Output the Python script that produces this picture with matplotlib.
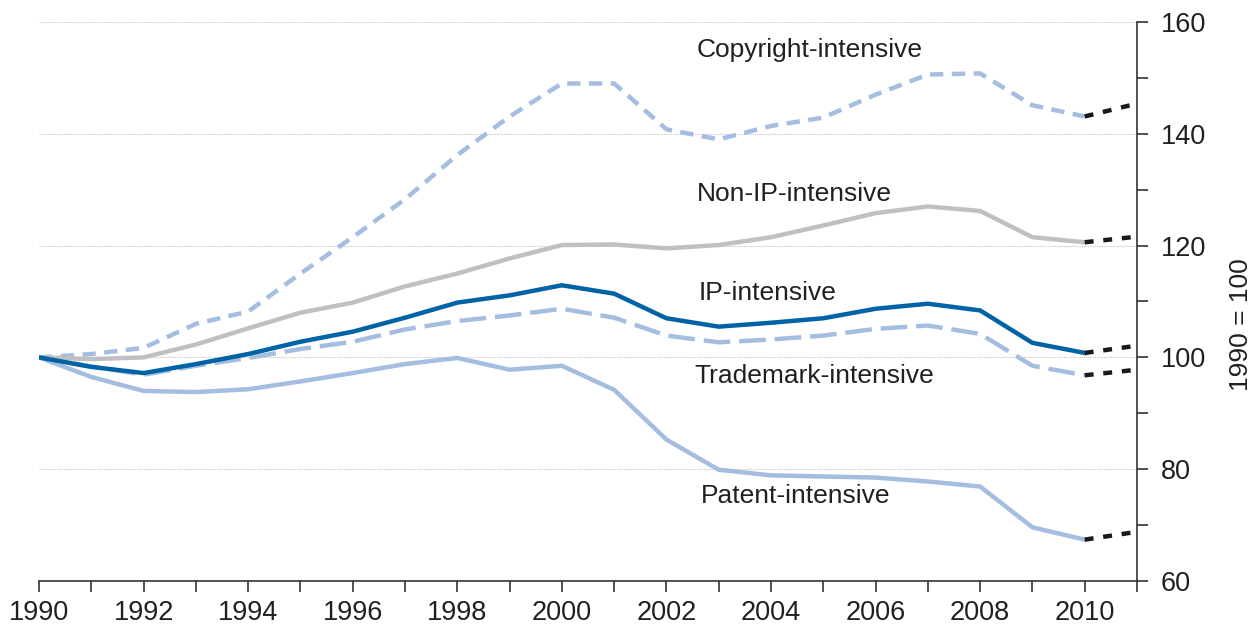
import matplotlib.pyplot as plt
from matplotlib.ticker import MultipleLocator

plt.rcParams['font.family'] = ['Liberation Sans', 'DejaVu Sans']

years = list(range(1990, 2011))
copyright_vals = [100, 100.6, 101.7, 106.0, 108.2, 115.0, 121.5, 128.3, 136.2, 143.1,
                  149.0, 149.0, 140.8, 139.0, 141.4, 142.9, 147.0, 150.6, 150.8, 145.1, 143.1]
non_ip_vals = [100, 99.7, 100.0, 102.3, 105.2, 108.0, 109.8, 112.7, 115.0, 117.7,
               120.1, 120.2, 119.5, 120.1, 121.5, 123.6, 125.8, 127.0, 126.2, 121.5, 120.6]
ip_vals = [100, 98.3, 97.2, 98.8, 100.6, 102.8, 104.6, 107.1, 109.8, 111.1,
           112.9, 111.4, 107.0, 105.5, 106.2, 107.0, 108.7, 109.6, 108.4, 102.6, 100.8]
trademark_vals = [100, 98.4, 96.9, 98.5, 99.9, 101.5, 102.8, 105.0, 106.5, 107.5,
                  108.7, 107.1, 103.9, 102.7, 103.2, 103.9, 105.1, 105.7, 104.2, 98.5, 96.8]
patent_vals = [100, 96.5, 94.0, 93.8, 94.3, 95.7, 97.2, 98.8, 99.9, 97.8,
               98.5, 94.2, 85.3, 79.9, 78.9, 78.7, 78.5, 77.8, 76.9, 69.6, 67.4]

# 2011 projected values (black dashed)
proj_years = [2010, 2011]
proj_2011 = {"copyright": 145.4, "non_ip": 121.6, "ip": 102.1,
             "trademark": 97.8, "patent": 68.8}

light_blue = "#a4bde0"
dark_blue = "#0063a6"
grey = "#c0c0c4"
text_col = "#231f20"

fig = plt.figure(figsize=(12.59, 6.32), dpi=100)
ax = fig.add_axes([0.031, 0.0807, 0.8721, 0.8845])

lw = 3.2
ax.plot(years, copyright_vals, color=light_blue, lw=lw, dashes=(3.0, 1.9))
ax.plot(years, non_ip_vals, color=grey, lw=lw)
ax.plot(years, trademark_vals, color=light_blue, lw=lw, dashes=(6, 2))
ax.plot(years, patent_vals, color=light_blue, lw=lw)
ax.plot(years, ip_vals, color=dark_blue, lw=lw)

for key, series in [("copyright", copyright_vals), ("non_ip", non_ip_vals),
                    ("ip", ip_vals), ("trademark", trademark_vals),
                    ("patent", patent_vals)]:
    ax.plot(proj_years, [series[-1], proj_2011[key]], color="#1a1a1a",
            lw=lw, dashes=(2.0, 2.2))

# series labels
fs = 19
ax.text(2002.58, 155.0, "Copyright-intensive", fontsize=fs, va="center", color=text_col)
ax.text(2002.58, 129.2, "Non-IP-intensive", fontsize=fs, va="center", color=text_col)
ax.text(2002.62, 111.5, "IP-intensive", fontsize=fs, va="center", color=text_col)
ax.text(2002.54, 96.7, "Trademark-intensive", fontsize=fs, va="center", color=text_col)
ax.text(2002.66, 75.2, "Patent-intensive", fontsize=fs, va="center", color=text_col)

ax.set_xlim(1990, 2011)
ax.set_ylim(60, 160)

ax.xaxis.set_major_locator(MultipleLocator(2))
ax.xaxis.set_minor_locator(MultipleLocator(1))
ax.yaxis.set_major_locator(MultipleLocator(20))
ax.yaxis.set_minor_locator(MultipleLocator(10))

ax.yaxis.tick_right()
ax.yaxis.set_label_position("right")
ax.set_ylabel("1990 = 100", fontsize=fs, color=text_col)
ax.yaxis.set_label_coords(1.084, 0.458)

for s in ["left", "top"]:
    ax.spines[s].set_visible(False)
for s in ["bottom", "right"]:
    ax.spines[s].set_color("#333333")
    ax.spines[s].set_linewidth(1.2)

ax.tick_params(axis="both", which="both", direction="out", length=8,
               width=1.2, color="#333333", labelsize=19.5, labelcolor=text_col)
ax.tick_params(axis="x", pad=6)
ax.tick_params(axis="y", pad=9)

ax.grid(axis="y", which="major", color="#c4c4c4", lw=0.8, ls=(0, (1, 1)))
ax.set_axisbelow(True)

fig.savefig("out.png", dpi=100)
